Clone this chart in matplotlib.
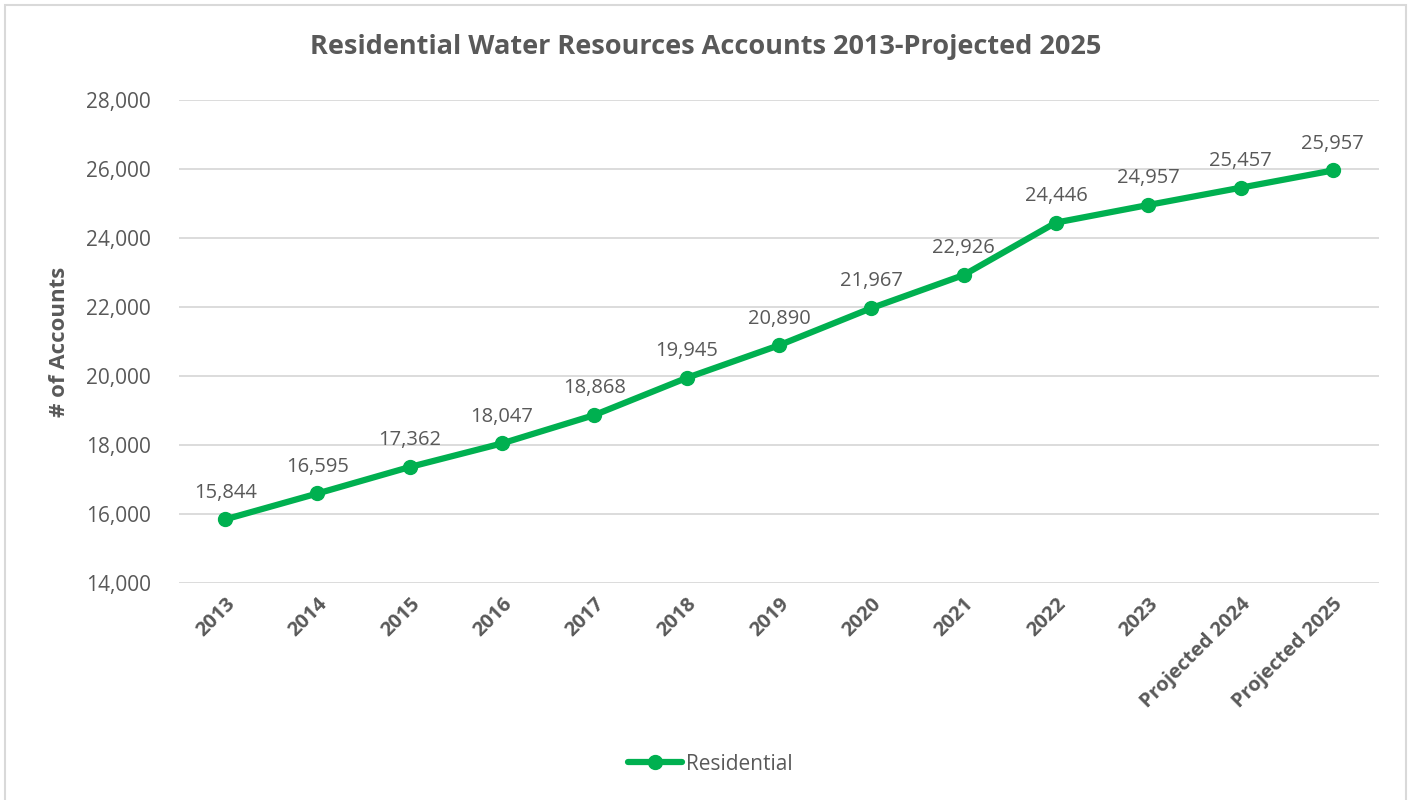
import matplotlib
matplotlib.use("Agg")
import matplotlib.pyplot as plt
from matplotlib.patches import Rectangle
from matplotlib.ticker import FuncFormatter

years = ["2013", "2014", "2015", "2016", "2017", "2018", "2019", "2020",
         "2021", "2022", "2023", "Projected 2024", "Projected 2025"]
accounts = [15844, 16595, 17362, 18047, 18868, 19945, 20890, 21967,
            22926, 24446, 24957, 25457, 25957]

GREEN = "#00B050"
TEXT = "#595959"
GRID = "#D9D9D9"

plt.rcParams["font.family"] = ["Open Sans", "DejaVu Sans"]

fig = plt.figure(figsize=(14.13, 8), dpi=100)
fig.patches.append(Rectangle((5 / 1413, -0.01), 1401 / 1413, 1.0 - 5 / 800 + 0.01,
                             transform=fig.transFigure, fill=False,
                             edgecolor=GRID, linewidth=1.5))

ax = fig.add_axes([179 / 1413, 1 - 583 / 800, 1200 / 1413, 483 / 800])
x = range(len(years))
ax.plot(x, accounts, color=GREEN, linewidth=4.5, marker="o", markersize=10,
        label="Residential", zorder=3, solid_capstyle="round")

for xi, v in zip(x, accounts):
    ax.annotate(f"{v:,}", (xi, v), xytext=(0, 12), textcoords="offset points",
                ha="center", va="bottom", fontsize=14.5, color=TEXT)

ax.set_xlim(-0.5, len(years) - 0.5)
ax.set_ylim(14000, 28000)
ax.set_yticks(range(14000, 28001, 2000))
ax.yaxis.set_major_formatter(FuncFormatter(lambda v, p: f"{int(v):,}"))
ax.grid(axis="y", color=GRID, linewidth=1.3)
ax.set_axisbelow(True)
for s in ax.spines.values():
    s.set_visible(False)
ax.tick_params(axis="both", length=0, colors=TEXT)
ax.tick_params(axis="y", pad=20, labelsize=15)
ax.set_xticks(list(x))
ax.set_xticklabels(years, rotation=45, ha="right", rotation_mode="anchor",
                   fontweight="bold", fontsize=14.5)
ax.tick_params(axis="x", pad=8)

ax.set_ylabel("# of Accounts", fontsize=16, fontweight="bold", color=TEXT, labelpad=12)

fig.text(706 / 1413, 1 - 47 / 800, "Residential Water Resources Accounts 2013-Projected 2025",
         ha="center", va="center", fontsize=19.5, fontweight="bold", color=TEXT)

fig.legend(loc="center", bbox_to_anchor=(710 / 1413, 1 - 764 / 800), frameon=False,
           fontsize=15, labelcolor=TEXT, handlelength=2.6, handletextpad=0.2)

fig.savefig("out.png", dpi=100)
